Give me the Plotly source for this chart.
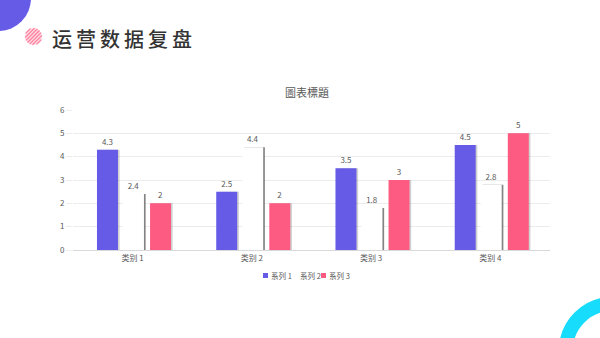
import math
import plotly.graph_objects as go

# ---- data ----
categories = ["类别 1", "类别 2", "类别 3", "类别 4"]
series_names = ["系列 1", "系列 2", "系列 3"]
series1 = [4.3, 2.5, 3.5, 4.5]
series2 = [2.4, 4.4, 1.8, 2.8]
series3 = [2, 2, 3, 5]
y_ticks = [0, 1, 2, 3, 4, 5, 6]

# ---- page geometry ----
W, H = 600, 338
ML, MR, MT, MB = 73, 50, 110, 88
PW, PH = W - ML - MR, H - MT - MB


def px(x):
    return (x - ML) / PW


def py(y):
    return 1 - (y - MT) / PH


PURPLE = "#665be6"
PINK = "#fd5b81"
TEXT = "#595959"

colors = [PURPLE, "#ffffff", PINK]
values = [series1, series2, series3]
bar_w = 0.176
offsets = [-0.299, -0.081, 0.146]
shadow_colors = ["rgba(0,0,0,0.18)", "rgba(90,90,90,0.75)", "rgba(0,0,0,0.18)"]

fig = go.Figure()
xs = list(range(len(categories)))

# soft shadows sit behind every bar, shifted a little to the right
for i in range(3):
    fig.add_trace(go.Bar(
        x=xs, y=values[i], width=bar_w, offset=offsets[i] + 0.014,
        marker=dict(color=shadow_colors[i], line=dict(width=0)),
        showlegend=False, hoverinfo="skip",
    ))

for i in range(3):
    fig.add_trace(go.Bar(
        x=xs, y=values[i], name=series_names[i], width=bar_w, offset=offsets[i],
        marker=dict(color=colors[i], line=dict(width=0)),
        text=[f"{v:g}" for v in values[i]], textposition="outside",
        textfont=dict(size=8, color=TEXT), outsidetextfont=dict(size=8, color=TEXT),
        cliponaxis=False, showlegend=False,
    ))

shapes = []
annotations = []

# compact legend row: small square key + series name
leg_y = 275.5
for i, name in enumerate(series_names):
    x0 = 263 + i * 29
    shapes.append(dict(type="rect", xref="paper", yref="paper",
                       x0=px(x0), x1=px(x0 + 5), y0=py(leg_y - 2.5), y1=py(leg_y + 2.5),
                       fillcolor=colors[i], line=dict(width=0)))
    annotations.append(dict(text=name, xref="paper", yref="paper",
                            x=px(x0 + 6), y=py(leg_y), xanchor="left", yanchor="middle",
                            showarrow=False, font=dict(size=7.5, color=TEXT)))

# purple blob top-left
shapes.append(dict(type="circle", xref="paper", yref="paper",
                   x0=px(-33), x1=px(31), y0=py(-35), y1=py(31),
                   fillcolor=PURPLE, line=dict(width=0), layer="above"))
# striped pink dot
cx, cy, r = 33.5, 36.5, 8.5
shapes.append(dict(type="circle", xref="paper", yref="paper",
                   x0=px(cx - r), x1=px(cx + r), y0=py(cy - r), y1=py(cy + r),
                   fillcolor="#ffd6e0", line=dict(width=0), layer="above"))
for k in range(-5, 6):
    d = k * 2.6
    h = r * r - d * d
    if h <= 0.5:
        continue
    half = math.sqrt(h)
    ox, oy = cx + d / math.sqrt(2), cy + d / math.sqrt(2)
    ux, uy = 1 / math.sqrt(2), -1 / math.sqrt(2)
    shapes.append(dict(type="line", xref="paper", yref="paper",
                       x0=px(ox - ux * half), y0=py(oy - uy * half),
                       x1=px(ox + ux * half), y1=py(oy + uy * half),
                       line=dict(color="#ff7f9c", width=1.2), layer="above"))
# cyan ring bottom-right
rcx, rcy, ro, ri = 612, 350, 53, 39
rm, rw = (ro + ri) / 2, ro - ri
shapes.append(dict(type="circle", xref="paper", yref="paper",
                   x0=px(rcx - rm), x1=px(rcx + rm), y0=py(rcy - rm), y1=py(rcy + rm),
                   line=dict(color="#17dcfb", width=rw), layer="above"))

# page heading
annotations.append(dict(text="运\u2009营\u2009数\u2009据\u2009复\u2009盘", xref="paper", yref="paper",
                        x=px(50), y=py(38), xanchor="left", yanchor="middle",
                        showarrow=False,
                        font=dict(size=20, color="#333333", family="Noto Sans CJK SC, sans-serif",
                                  weight=500)))

fig.update_layout(
    width=W, height=H,
    margin=dict(l=ML, r=MR, t=MT, b=MB),
    paper_bgcolor="white", plot_bgcolor="white",
    barmode="overlay",
    font=dict(family="Noto Sans CJK SC, Noto Sans, sans-serif", color=TEXT, size=8),
    title=dict(text="圖表標題", x=307 / W, xanchor="center",
               y=1 - 93 / H, yanchor="middle", yref="container",
               font=dict(size=11, color=TEXT, family="Noto Sans CJK TC, Noto Sans CJK SC, sans-serif")),
    xaxis=dict(tickmode="array", tickvals=xs, ticktext=categories,
               range=[-0.5, 3.5], showgrid=False, zeroline=False,
               showline=True, linecolor="#d9d9d9", linewidth=1,
               ticks="", tickfont=dict(size=8, color=TEXT), fixedrange=True),
    yaxis=dict(range=[0, 6], tickvals=y_ticks, showgrid=True, gridcolor="#ececec",
               gridwidth=1, zeroline=False, ticks="outside", ticklen=6,
               tickcolor="#ececec", tickfont=dict(size=8, color=TEXT), showline=False,
               fixedrange=True),
    showlegend=False,
    shapes=shapes,
    annotations=annotations,
)

fig.write_html("out.html")
